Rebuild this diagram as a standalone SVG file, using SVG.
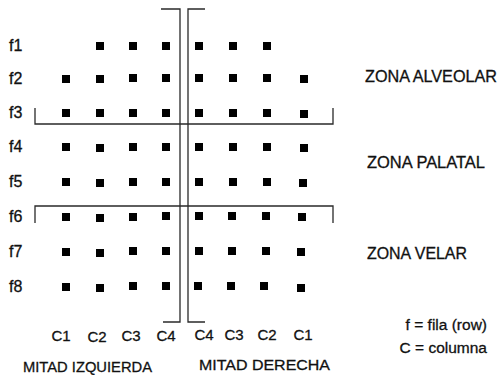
<svg xmlns="http://www.w3.org/2000/svg" width="499" height="375" viewBox="0 0 499 375">
<defs>
<style>
.t{font-family:"Liberation Sans",Arial,sans-serif;fill:#111;stroke:#111;stroke-width:0.3;}
.row{font-size:16px;}
.col{font-size:15px;text-anchor:middle;}
.zone{font-size:16px;}
.half{font-size:15.5px;}
.leg{font-size:15.5px;text-anchor:end;}
.ln{stroke:#2a2a2a;stroke-width:1.3;fill:none;}
.sq{fill:#000;}
</style>
<rect id="d" class="sq" x="-4" y="-4" width="8" height="8"/>
</defs>
<rect width="499" height="375" fill="#fff"/>
<g id="connectors">
<polyline class="ln" points="161,9 180,9 180,322 163,322"/>
<polyline class="ln" points="205,9 188,9 188,322 205,322"/>
<polyline class="ln" points="35,108 35,124 333,124 333,108"/>
<polyline class="ln" points="35,223 35,206 333,206 333,223"/>
</g>
<g id="row-labels" class="t row">
<text x="9" y="51">f1</text>
<text x="9" y="84">f2</text>
<text x="9" y="118">f3</text>
<text x="9" y="152">f4</text>
<text x="9" y="187">f5</text>
<text x="9" y="222">f6</text>
<text x="9" y="257">f7</text>
<text x="9" y="292">f8</text>
</g>
<g id="grid">
<g id="f1"><use href="#d" x="100" y="46"/><use href="#d" x="133" y="46"/><use href="#d" x="166" y="46"/><use href="#d" x="199" y="46"/><use href="#d" x="233" y="46"/><use href="#d" x="267" y="46"/></g>
<g id="f2"><use href="#d" x="66" y="79"/><use href="#d" x="100" y="79"/><use href="#d" x="133" y="78"/><use href="#d" x="166" y="78"/><use href="#d" x="199" y="78"/><use href="#d" x="233" y="78"/><use href="#d" x="267" y="78"/><use href="#d" x="304" y="79"/></g>
<g id="f3"><use href="#d" x="66" y="113"/><use href="#d" x="100" y="113"/><use href="#d" x="133" y="113"/><use href="#d" x="166" y="113"/><use href="#d" x="199" y="113"/><use href="#d" x="233" y="113"/><use href="#d" x="267" y="113"/><use href="#d" x="304" y="114"/></g>
<g id="f4"><use href="#d" x="66" y="147"/><use href="#d" x="100" y="148"/><use href="#d" x="133" y="147"/><use href="#d" x="166" y="147"/><use href="#d" x="199" y="147"/><use href="#d" x="233" y="147"/><use href="#d" x="267" y="147"/><use href="#d" x="304" y="148"/></g>
<g id="f5"><use href="#d" x="66" y="182"/><use href="#d" x="100" y="183"/><use href="#d" x="133" y="182"/><use href="#d" x="166" y="182"/><use href="#d" x="199" y="182"/><use href="#d" x="233" y="182"/><use href="#d" x="267" y="182"/><use href="#d" x="303" y="183"/></g>
<g id="f6"><use href="#d" x="66" y="217"/><use href="#d" x="100" y="218"/><use href="#d" x="133" y="217"/><use href="#d" x="166" y="216"/><use href="#d" x="199" y="216"/><use href="#d" x="232" y="216"/><use href="#d" x="266" y="216"/><use href="#d" x="302" y="217"/></g>
<g id="f7"><use href="#d" x="66" y="252"/><use href="#d" x="100" y="253"/><use href="#d" x="133" y="251"/><use href="#d" x="166" y="251"/><use href="#d" x="199" y="251"/><use href="#d" x="232" y="251"/><use href="#d" x="266" y="251"/><use href="#d" x="301" y="252"/></g>
<g id="f8"><use href="#d" x="66" y="287"/><use href="#d" x="100" y="288"/><use href="#d" x="133" y="286"/><use href="#d" x="166" y="286"/><use href="#d" x="198" y="286"/><use href="#d" x="231" y="286"/><use href="#d" x="264" y="286"/><use href="#d" x="301" y="288"/></g>
</g>
<g id="col-labels" class="t col">
<text x="61" y="341">C1</text>
<text x="97" y="342">C2</text>
<text x="131" y="341">C3</text>
<text x="166" y="341">C4</text>
<text x="204" y="340">C4</text>
<text x="234" y="340">C3</text>
<text x="267" y="340">C2</text>
<text x="303" y="340">C1</text>
</g>
<g id="zones" class="t zone">
<text x="365" y="82" textLength="132" lengthAdjust="spacingAndGlyphs">ZONA ALVEOLAR</text>
<text x="367" y="168" textLength="118" lengthAdjust="spacingAndGlyphs">ZONA PALATAL</text>
<text x="367" y="259" textLength="100" lengthAdjust="spacingAndGlyphs">ZONA VELAR</text>
</g>
<g id="halves" class="t half">
<text x="23" y="372" textLength="129" lengthAdjust="spacingAndGlyphs">MITAD IZQUIERDA</text>
<text x="199" y="370" textLength="131" lengthAdjust="spacingAndGlyphs">MITAD DERECHA</text>
</g>
<g id="legend" class="t leg">
<text x="487" y="330">f = fila (row)</text>
<text x="487" y="353">C = columna</text>
</g>
</svg>
